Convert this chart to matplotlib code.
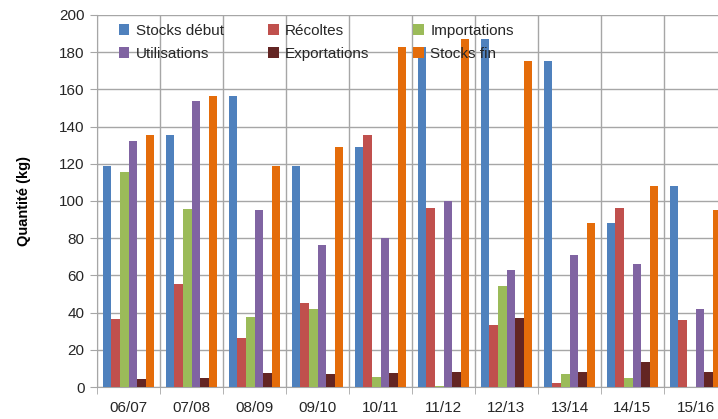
import matplotlib
matplotlib.use("Agg")
import matplotlib.pyplot as plt
import numpy as np

categories = ["06/07", "07/08", "08/09", "09/10", "10/11", "11/12", "12/13", "13/14", "14/15", "15/16"]
stocks_debut = [119, 135.5, 156.5, 119, 129, 183, 187, 175.5, 88, 108]
recoltes = [36.5, 55.5, 26.5, 45, 135.5, 96, 33.5, 2.3, 96, 36]
importations = [115.5, 95.5, 37.5, 42, 5.5, 0.6, 54.5, 6.8, 5, 0]
utilisations = [132, 154, 95, 76.5, 80, 100, 63, 71, 66, 42]
exportations = [4.5, 5, 7.3, 6.8, 7.3, 8.2, 37, 8.2, 13.2, 8.2]
stocks_fin = [135.5, 156.5, 119, 129, 183, 187, 175.5, 88, 108, 95]

series = [
    ("Stocks début", stocks_debut, "#4F81BD"),
    ("Récoltes", recoltes, "#C0504D"),
    ("Importations", importations, "#9BBB59"),
    ("Utilisations", utilisations, "#8064A2"),
    ("Exportations", exportations, "#632523"),
    ("Stocks fin", stocks_fin, "#E46C0A"),
]

plt.rcParams['font.family'] = ['Liberation Sans', 'DejaVu Sans']

fig = plt.figure(figsize=(7.18, 4.19), dpi=100)
ax = fig.add_axes([97/718, 1-387/419, 630/718, 372/419])

x = np.arange(len(categories))
w = 0.135
handles = {}
for i, (name, vals, col) in enumerate(series):
    b = ax.bar(x + (i - 2.5) * w, vals, width=w, color=col, zorder=3, linewidth=0)
    handles[name] = b

ax.set_xlim(-0.5, len(categories) - 0.5)
ax.set_ylim(0, 200)
ax.set_yticks(np.arange(0, 201, 20))
ax.set_xticks(x)
ax.set_xticklabels(categories)
ax.set_xticks(np.arange(-0.5, len(categories), 1), minor=True)

gc = "#A6A6A6"
ax.grid(axis='y', which='major', color=gc, linewidth=1, zorder=0)
ax.grid(axis='x', which='minor', color=gc, linewidth=1, zorder=0)
ax.grid(axis='x', which='major', visible=False)
for s in ["top", "right"]:
    ax.spines[s].set_visible(False)
for s in ["left", "bottom"]:
    ax.spines[s].set_color(gc)
ax.tick_params(axis='x', which='major', length=0, pad=10, labelsize=11, labelcolor="#262626")
ax.tick_params(axis='x', which='minor', length=5, color=gc)
ax.tick_params(axis='y', length=5, color=gc, labelsize=11, labelcolor="#262626", pad=4)
ax.set_ylabel("Quantité (kg)", fontsize=10.5, fontweight='bold', labelpad=20)

order = ["Stocks début", "Utilisations", "Récoltes", "Exportations", "Importations", "Stocks fin"]
ax.legend([handles[n] for n in order], order, ncol=3, frameon=False,
          loc='upper left', bbox_to_anchor=(0.02, 1.0), fontsize=11,
          handlelength=0.7, handleheight=0.7, handletextpad=0.4,
          columnspacing=2.9, labelspacing=0.55, borderaxespad=0.2,
          labelcolor="#262626")

fig.savefig("out.png", dpi=100)
